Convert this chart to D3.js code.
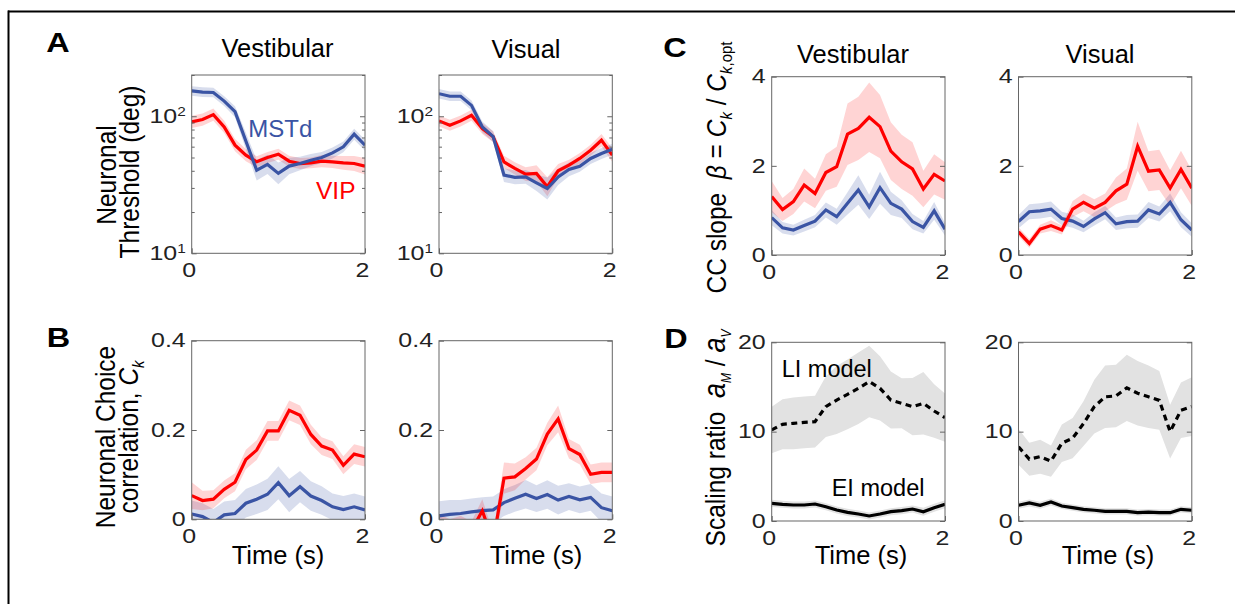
<!DOCTYPE html>
<html><head><meta charset="utf-8">
<script src="https://cdn.jsdelivr.net/npm/d3@7"></script>
<style>
html,body{margin:0;padding:0;background:#fff;}
svg text{font-family:"Liberation Sans",Arial,Helvetica,sans-serif;}
</style></head><body>
<svg id="c" width="1235" height="604"></svg>
<script>
// ---------- data ----------
const times = [0,0.125,0.25,0.375,0.5,0.625,0.75,0.875,1,1.125,1.25,1.375,1.5,1.625,1.75,1.875,2];

// A: neuronal threshold (deg), error as log10 half-width
const thrVestMSTd = [153,150,149,129,108,66,40.4,44.5,38.3,43.3,45.2,47.8,50,54,59.8,74,61.5];
const thrVestMSTdErr = [0.035,0.035,0.035,0.035,0.04,0.06,0.075,0.07,0.08,0.06,0.05,0.045,0.04,0.04,0.04,0.04,0.04];
const thrVestVIP = [91,94.6,102.8,83.6,61.5,52,46.5,50,52.9,47,45.2,45.7,47,46.5,45.7,45.2,43.2];
const thrVestVIPErr = [0.045,0.045,0.045,0.045,0.045,0.045,0.04,0.04,0.04,0.04,0.04,0.04,0.045,0.045,0.05,0.055,0.06];
const thrVisMSTd = [146,140,140,120,83.6,71,37.2,35.8,36.1,32.7,29.7,36.1,40.9,43.2,49.2,53.5,57.5];
const thrVisMSTdErr = [0.035,0.035,0.035,0.035,0.04,0.04,0.05,0.05,0.05,0.06,0.08,0.06,0.05,0.04,0.04,0.04,0.04];
const thrVisVIP = [92.5,86,92.5,101.6,81.3,70.8,46.5,41.6,37.8,38.3,30.6,40,44,49.2,56.5,66.8,52];
const thrVisVIPErr = [0.04,0.04,0.04,0.04,0.04,0.04,0.045,0.045,0.05,0.06,0.07,0.05,0.04,0.04,0.04,0.045,0.05];

// B: choice correlation C_k
const ccVestVIP = [0.053,0.042,0.045,0.067,0.083,0.134,0.155,0.198,0.198,0.244,0.233,0.19,0.164,0.155,0.121,0.146,0.14];
const ccVestVIPErr = [0.03,0.022,0.02,0.02,0.02,0.022,0.022,0.022,0.022,0.022,0.022,0.022,0.02,0.02,0.02,0.022,0.022];
const ccVestMSTd = [0.012,0.006,-0.007,0.01,0.013,0.036,0.045,0.056,0.082,0.053,0.073,0.052,0.042,0.028,0.022,0.028,0.021];
const ccVestMSTdErr = [0.03,0.03,0.03,0.03,0.03,0.032,0.033,0.035,0.037,0.037,0.035,0.033,0.032,0.03,0.03,0.03,0.03];
const ccVisVIP = [-0.008,-0.02,-0.012,-0.025,0.019,-0.05,0.092,0.095,0.114,0.135,0.191,0.225,0.158,0.145,0.101,0.105,0.105];
const ccVisVIPErr = [0.02,0.02,0.02,0.02,0.026,0.02,0.035,0.03,0.025,0.025,0.025,0.03,0.022,0.022,0.022,0.022,0.022];
const ccVisMSTd = [0.0075,0.011,0.013,0.0165,0.0195,0.021,0.0375,0.047,0.056,0.0465,0.0555,0.043,0.051,0.0435,0.049,0.026,0.019];
const ccVisMSTdErr = [0.033,0.032,0.03,0.03,0.03,0.03,0.03,0.03,0.032,0.03,0.032,0.032,0.03,0.03,0.03,0.032,0.032];

// C: CC slope beta
const slopeVestVIP = [1.31,1.02,1.20,1.57,1.38,1.85,1.98,2.71,2.84,3.09,2.88,2.33,2.09,1.93,1.48,1.81,1.66];
const slopeVestVIPErr = [0.35,0.26,0.28,0.37,0.33,0.41,0.45,0.69,0.71,0.78,0.71,0.65,0.61,0.6,0.41,0.45,0.42];
const slopeVestMSTd = [0.84,0.61,0.56,0.66,0.76,1.01,0.86,1.16,1.46,1.08,1.51,1.16,1.03,0.75,0.62,0.99,0.58];
const slopeVestMSTdErr = [0.17,0.13,0.12,0.13,0.14,0.17,0.18,0.25,0.33,0.27,0.36,0.26,0.2,0.17,0.14,0.2,0.14];
const slopeVisVIP = [0.52,0.26,0.58,0.66,0.56,1.03,1.18,1.05,1.18,1.44,1.59,2.44,1.88,1.91,1.50,1.92,1.50];
const slopeVisVIPErr = [0.1,0.1,0.1,0.12,0.1,0.18,0.2,0.2,0.2,0.3,0.35,0.55,0.45,0.45,0.4,0.42,0.4];
const slopeVisMSTd = [0.75,0.97,0.99,1.03,0.82,0.76,0.64,0.81,0.95,0.70,0.75,0.76,1.01,0.92,1.18,0.79,0.56];
const slopeVisMSTdErr = [0.15,0.17,0.17,0.17,0.15,0.15,0.13,0.15,0.15,0.14,0.15,0.15,0.18,0.17,0.2,0.17,0.15];

// D: scaling ratio a_M / a_V
const ratioVestLI = [10.19,10.82,10.93,11.04,11.12,12.8,13.54,14.18,14.85,15.6,14.85,13.54,13.17,12.8,13.17,12.31,11.57];
const ratioVestLIErr = [2.6,2.8,2.9,2.9,2.9,3.4,3.8,3.9,4.0,4.0,3.6,3.2,2.8,3.2,3.5,3.0,2.7];
const ratioVestEI = [1.98,1.87,1.79,1.79,1.9,1.6,1.23,0.97,0.78,0.56,0.78,1.04,1.16,1.34,1.04,1.49,1.87];
const ratioVestEIErr = [0.4,0.4,0.4,0.4,0.4,0.4,0.4,0.4,0.4,0.4,0.4,0.4,0.4,0.4,0.45,0.45,0.45];
const ratioVisLI = [8.3,6.92,7.2,6.7,8.7,9.27,10.9,12.8,13.9,14.0,14.9,14.3,13.9,13.5,10.0,12.4,12.8];
const ratioVisLIErr = [2.0,1.85,1.9,1.75,2.1,2.25,2.5,3.0,3.5,3.5,3.7,3.6,3.5,3.3,3.0,3.1,3.3];
const ratioVisEI = [1.76,2.02,1.76,2.13,1.68,1.5,1.31,1.2,1.08,1.08,1.08,0.93,1.0,0.93,0.93,1.31,1.2];
const ratioVisEIErr = [0.4,0.4,0.4,0.4,0.35,0.35,0.35,0.35,0.35,0.35,0.35,0.35,0.35,0.35,0.35,0.35,0.35];

// ticks
const xTicks = [0,2];
const thrTicks = [10,20,30,40,50,60,70,80,90,100,200];
const thrMajor = {10:"1",100:"2"};
const ccTicks = [0,0.2,0.4];
const ccLabels = ["0","0.2","0.4"];
const slopeTicks = [0,2,4];
const ratioTicks = [0,10,20];
const colTitles = ["Vestibular","Visual"];

// ---------- drawing ----------
const RED = "#ff0000", BLUE = "#3a54a4";
const RED_BAND = "rgba(255,0,0,0.17)", BLUE_BAND = "rgba(58,84,164,0.2)";
const GRAY_BAND = "#e2e2e2";
const FONT = '"Liberation Sans",Arial,Helvetica,sans-serif';
const W = 173.3;
const svg = d3.select("#c");

// outer frame
svg.append("line").attr("x1",8).attr("x2",1235).attr("y1",11.5).attr("y2",11.5).attr("stroke","#000").attr("stroke-width",2);
svg.append("line").attr("x1",8.5).attr("x2",8.5).attr("y1",10.5).attr("y2",604).attr("stroke","#000").attr("stroke-width",2);

let clipN = 0;
function panel(p){
  const g = svg.append("g").attr("transform",`translate(${p.x},${p.y})`);
  const x = d3.scaleLinear().domain([0,2]).range([0,W]);
  const y = p.log ? d3.scaleLog().domain(p.domain).range([p.h,0])
                  : d3.scaleLinear().domain(p.domain).range([p.h,0]);
  const id = "clip" + (clipN++);
  g.append("clipPath").attr("id",id).append("rect").attr("width",W).attr("height",p.h);
  const plot = g.append("g").attr("clip-path",`url(#${id})`);
  p.series.forEach(s=>{
    const lo = (v,i)=> p.log ? v/Math.pow(10,s.err[i]) : v - s.err[i];
    const hi = (v,i)=> p.log ? v*Math.pow(10,s.err[i]) : v + s.err[i];
    plot.append("path").datum(s.values)
      .attr("d", d3.area().x((d,i)=>x(times[i])).y0((d,i)=>y(lo(d,i))).y1((d,i)=>y(hi(d,i))))
      .attr("fill", s.band).attr("stroke","none");
  });
  p.series.forEach(s=>{
    plot.append("path").datum(s.values)
      .attr("d", d3.line().x((d,i)=>x(times[i])).y(d=>y(d)))
      .attr("fill","none").attr("stroke",s.color).attr("stroke-width",3.2)
      .attr("stroke-dasharray", s.dash || null);
  });
  // box
  g.append("rect").attr("width",W).attr("height",p.h).attr("fill","none").attr("stroke","#666").attr("stroke-width",1);
  // left axis
  const la = g.append("g").call(d3.axisLeft(y).tickValues(p.ticks).tickSizeInner(-5).tickSizeOuter(0).tickPadding(6)
      .tickFormat(p.fmt));
  la.select(".domain").remove();
  la.selectAll(".tick line").attr("stroke","#666");
  la.selectAll(".tick text").attr("font-size",19.5).attr("font-family",FONT).attr("fill","#222")
     .attr("transform","scale(1.28,1)").attr("x",-6/1.28);
  // right axis ticks
  const ra = g.append("g").attr("transform",`translate(${W},0)`)
     .call(d3.axisRight(y).tickValues(p.ticks).tickSizeInner(-5).tickSizeOuter(0).tickFormat(""));
  ra.select(".domain").remove();
  ra.selectAll(".tick line").attr("stroke","#666");
  if (p.log){
    la.selectAll(".tick line").attr("x2", d=> thrMajor[d] ? 5 : 3);
    ra.selectAll(".tick line").attr("x2", d=> thrMajor[d] ? -5 : -3);
    la.selectAll(".tick text").each(function(d){
      const t = d3.select(this);
      t.text("");
      if (thrMajor[d]){
        t.append("tspan").text("10");
        t.append("tspan").attr("dy","-0.62em").attr("font-size",12).text(thrMajor[d]);
      }
    });
  }
  // bottom axis
  const ba = g.append("g").attr("transform",`translate(0,${p.h})`)
     .call(d3.axisBottom(x).tickValues(xTicks).tickSizeInner(-5).tickSizeOuter(0).tickPadding(9.7).tickFormat(d3.format("d")));
  ba.select(".domain").remove();
  ba.selectAll(".tick line").attr("stroke","#666");
  ba.selectAll(".tick text").attr("font-size",19.5).attr("font-family",FONT).attr("fill","#222")
     .attr("transform","scale(1.28,1)").attr("x",-3/1.28);
  return {g,x,y};
}

const colX = [191.7, 439, 771.7, 1018.5];
const rowA = {y:75, h:178.3}, rowB = {y:340.7, h:178.6}, rowC = {y:76.7, h:178.3}, rowD = {y:342.3, h:178.7};

// Panel A
panel({x:colX[0], ...rowA, log:true, domain:[10,200], ticks:thrTicks, fmt:d=>String(d), series:[
  {values:thrVestVIP, err:thrVestVIPErr, color:RED, band:RED_BAND},
  {values:thrVestMSTd, err:thrVestMSTdErr, color:BLUE, band:BLUE_BAND}]});
panel({x:colX[1], ...rowA, log:true, domain:[10,200], ticks:thrTicks, fmt:d=>String(d), series:[
  {values:thrVisVIP, err:thrVisVIPErr, color:RED, band:RED_BAND},
  {values:thrVisMSTd, err:thrVisMSTdErr, color:BLUE, band:BLUE_BAND}]});
// Panel B
panel({x:colX[0], ...rowB, domain:[0,0.4], ticks:ccTicks, fmt:(d,i)=>ccLabels[i], series:[
  {values:ccVestMSTd, err:ccVestMSTdErr, color:BLUE, band:BLUE_BAND},
  {values:ccVestVIP, err:ccVestVIPErr, color:RED, band:RED_BAND}]});
panel({x:colX[1], ...rowB, domain:[0,0.4], ticks:ccTicks, fmt:(d,i)=>ccLabels[i], series:[
  {values:ccVisMSTd, err:ccVisMSTdErr, color:BLUE, band:BLUE_BAND},
  {values:ccVisVIP, err:ccVisVIPErr, color:RED, band:RED_BAND}]});
// Panel C
panel({x:colX[2], ...rowC, domain:[0,4], ticks:slopeTicks, fmt:d3.format("d"), series:[
  {values:slopeVestMSTd, err:slopeVestMSTdErr, color:BLUE, band:BLUE_BAND},
  {values:slopeVestVIP, err:slopeVestVIPErr, color:RED, band:RED_BAND}]});
panel({x:colX[3], ...rowC, domain:[0,4], ticks:slopeTicks, fmt:d3.format("d"), series:[
  {values:slopeVisMSTd, err:slopeVisMSTdErr, color:BLUE, band:BLUE_BAND},
  {values:slopeVisVIP, err:slopeVisVIPErr, color:RED, band:RED_BAND}]});
// Panel D
panel({x:colX[2], ...rowD, domain:[0,20], ticks:ratioTicks, fmt:d3.format("d"), series:[
  {values:ratioVestLI, err:ratioVestLIErr, color:"#000", band:GRAY_BAND, dash:"6,4.5"},
  {values:ratioVestEI, err:ratioVestEIErr, color:"#000", band:GRAY_BAND}]});
panel({x:colX[3], ...rowD, domain:[0,20], ticks:ratioTicks, fmt:d3.format("d"), series:[
  {values:ratioVisLI, err:ratioVisLIErr, color:"#000", band:GRAY_BAND, dash:"6,4.5"},
  {values:ratioVisEI, err:ratioVisEIErr, color:"#000", band:GRAY_BAND}]});

// ---------- texts ----------
function txt(x,y,s,opt={}){
  return svg.append("text").attr("x",x).attr("y",y).text(s)
    .attr("font-size",opt.size||25).attr("font-family",FONT)
    .attr("font-weight",opt.weight||"normal").attr("fill",opt.fill||"#000")
    .attr("text-anchor",opt.anchor||"middle");
}
// panel letters
[["A",58,52],["B",58.5,347],["C",675,57],["D",676,348]].forEach(([l,x,y])=>{
  svg.append("text").attr("transform",`translate(${x},${y}) scale(1.2,1)`).attr("text-anchor","middle")
    .attr("font-size",27).attr("font-weight","bold").attr("font-family",FONT).text(l);
});
// column titles
txt(277.5,56.7,colTitles[0],{size:25.5});
txt(526,57.5,colTitles[1],{size:25.5});
txt(853,62.7,colTitles[0],{size:25.5});
txt(1100,63,colTitles[1],{size:25.5});
// x labels
txt(278,564,"Time (s)",{size:25.5});
txt(536,564,"Time (s)",{size:25.5});
txt(861,563.5,"Time (s)",{size:25.5});
txt(1108,563.5,"Time (s)",{size:25.5});
// series labels
txt(248.3,136.7,"MSTd",{size:24,fill:BLUE,anchor:"start"});
txt(316,199.3,"VIP",{size:24.5,fill:RED,anchor:"start"});
txt(781.7,377.3,"LI model",{size:23.5,anchor:"start"});
txt(831.7,495.7,"EI model",{size:23.5,anchor:"start"});

// rotated y labels
function rot(x,y){
  return svg.append("text").attr("transform",`translate(${x},${y}) scale(1.15,1) rotate(-90)`)
    .attr("text-anchor","middle").attr("font-size",24.5).attr("font-family",FONT).attr("fill","#000");
}
rot(116,175).text("Neuronal");
rot(139,172).text("Threshold (deg)");
rot(115,437).text("Neuronal Choice");
const bl = rot(138,437);
bl.append("tspan").text("correlation, ");
bl.append("tspan").attr("font-style","italic").text("C");
bl.append("tspan").attr("font-style","italic").attr("font-size",15).attr("dy",5).text("k");

const cl = rot(726,167.5);
cl.append("tspan").text("CC slope\u00a0\u00a0");
cl.append("tspan").attr("font-style","italic").text("β");
cl.append("tspan").text(" = ");
cl.append("tspan").attr("font-style","italic").text("C");
cl.append("tspan").attr("font-style","italic").attr("font-size",15).attr("dy",5).text("k");
cl.append("tspan").attr("dy",-5).text(" / ");
cl.append("tspan").attr("font-style","italic").text("C");
cl.append("tspan").attr("font-style","italic").attr("font-size",15).attr("dy",5).text("k");
cl.append("tspan").attr("font-size",15).text(",opt");

const dl = rot(725,438);
dl.append("tspan").text("Scaling ratio\u00a0\u00a0");
dl.append("tspan").attr("font-style","italic").attr("font-size",27).text("a");
dl.append("tspan").attr("font-style","italic").attr("font-size",12).attr("dy",5).text("M");
dl.append("tspan").attr("dy",-5).text(" / ");
dl.append("tspan").attr("font-style","italic").attr("font-size",27).text("a");
dl.append("tspan").attr("font-style","italic").attr("font-size",12).attr("dy",5).text("V");
</script>
</body></html>
